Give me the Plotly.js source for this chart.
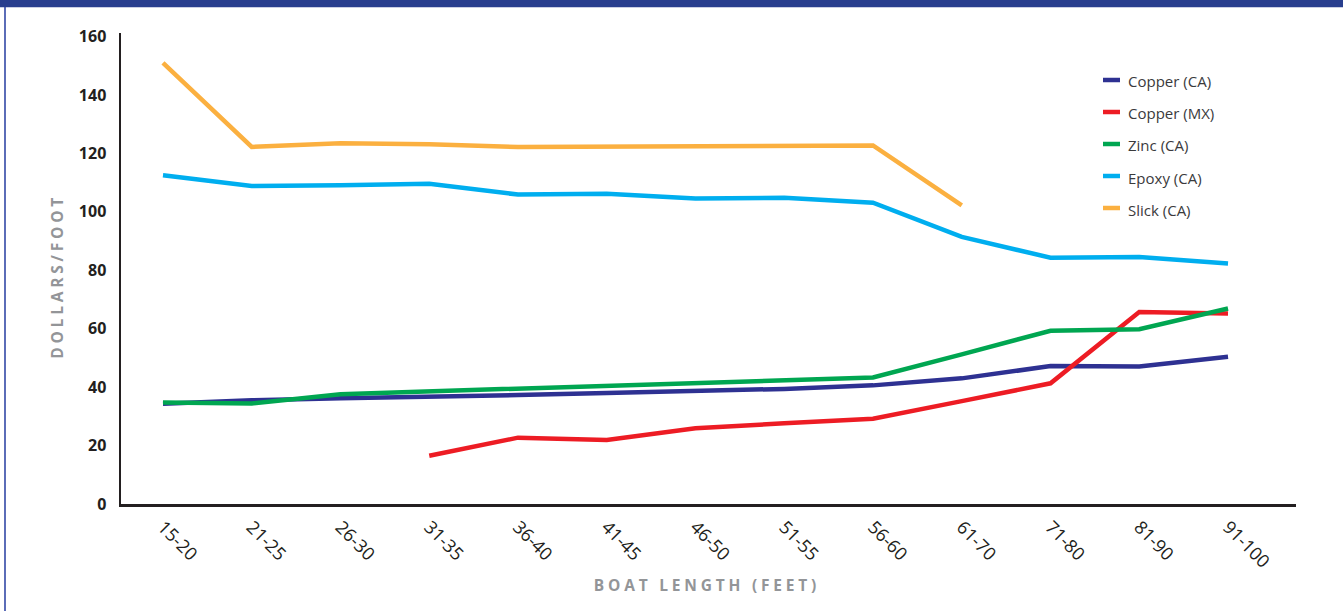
<!DOCTYPE html>
<html>
<head>
<meta charset="utf-8">
<script src="https://cdn.plot.ly/plotly-3.0.1.min.js"></script>
<style>
  html, body { margin: 0; padding: 0; background: #ffffff; }
  #chart { width: 1343px; height: 611px; }
</style>
</head>
<body>
<div id="chart"></div>
<script>
// ---- data ----
const categories = ['15-20','21-25','26-30','31-35','36-40','41-45','46-50','51-55','56-60','61-70','71-80','81-90','91-100'];
const copperCA = [34.3, 35.5, 36.2, 36.6, 37.3, 38.0, 38.6, 39.4, 40.6, 43.0, 47.2, 47.1, 50.4];
const copperMX = [null, null, null, 16.5, 22.7, 21.9, 25.9, 27.6, 29.2, 35.2, 41.3, 65.7, 65.2];
const zincCA   = [34.7, 34.4, 37.6, 38.6, 39.6, 40.5, 41.4, 42.3, 43.3, 51.2, 59.3, 59.8, 66.9];
const epoxyCA  = [112.5, 108.8, 109.1, 109.6, 105.9, 106.2, 104.6, 104.8, 103.1, 91.4, 84.3, 84.5, 82.3];
const slickCA  = [151.0, 122.2, 123.5, 123.1, 122.2, 122.3, 122.3, 122.4, 122.7, 102.2, null, null, null];
const seriesNames = ['Copper (CA)', 'Copper (MX)', 'Zinc (CA)', 'Epoxy (CA)', 'Slick (CA)'];
const yTicks = [0, 20, 40, 60, 80, 100, 120, 140, 160];
const xTitle = 'BOAT LENGTH (FEET)';
const yTitle = 'DOLLARS/FOOT';

// ---- styling ----
const colors = ['#2e3192', '#ed1c24', '#00a651', '#00aeef', '#fbb040'];
const values = [copperCA, copperMX, zincCA, epoxyCA, slickCA];

const traces = values.map((v, i) => ({
  type: 'scatter',
  mode: 'lines',
  x: categories,
  y: v,
  name: seriesNames[i],
  line: { color: colors[i], width: 4.5 },
  connectgaps: false,
  showlegend: false,
  hoverinfo: 'x+y+name'
}));

// plot area in pixels: left 121, right 1296, top 33, bottom 504
const L = 121, R = 1296, T = 33, B = 504;
const px2x = p => (p - L) / (R - L);
const py2y = p => (B - p) / (B - T);

const shapes = [
  // top banner
  { type: 'rect', xref: 'paper', yref: 'paper', x0: px2x(-2), x1: px2x(1345), y0: py2y(7.3), y1: py2y(-2),
    fillcolor: '#283e8e', line: { width: 0 }, layer: 'above' },
  // left border line
  { type: 'line', xref: 'paper', yref: 'paper', x0: px2x(5), x1: px2x(5), y0: py2y(7), y1: py2y(613),
    line: { color: '#3348a6', width: 1.6 } }
];

const annotations = [
  { text: xTitle, xref: 'paper', yref: 'paper', x: px2x(707), y: py2y(585), xanchor: 'center', yanchor: 'middle',
    showarrow: false, font: { family: 'Open Sans', size: 15.5, weight: 'bold', color: '#939598' } },
  { text: yTitle, xref: 'paper', yref: 'paper', x: px2x(57), y: py2y(277), xanchor: 'center', yanchor: 'middle',
    textangle: -90, showarrow: false, font: { family: 'Open Sans', size: 15.5, weight: 'bold', color: '#939598' } }
];

// legend drawn manually
const legendRows = [80, 112, 144, 176, 208];
seriesNames.forEach((n, i) => {
  shapes.push({ type: 'line', xref: 'paper', yref: 'paper', x0: px2x(1103), x1: px2x(1120),
    y0: py2y(legendRows[i]), y1: py2y(legendRows[i]), line: { color: colors[i], width: 4.5 } });
  annotations.push({ text: n, xref: 'paper', yref: 'paper', x: px2x(1126), y: py2y(legendRows[i] + 1.5),
    xanchor: 'left', yanchor: 'middle', showarrow: false,
    font: { family: 'Open Sans', size: 15, color: '#3a3a3c' } });
});

const layout = {
  width: 1343, height: 611,
  margin: { l: L, r: 1343 - R, t: T, b: 611 - B, pad: 0 },
  paper_bgcolor: '#ffffff', plot_bgcolor: '#ffffff',
  showlegend: false,
  xaxis: {
    type: 'category',
    range: [-0.473, 12.766],
    showgrid: false, zeroline: false,
    showline: true, linecolor: '#231f20', linewidth: 2.5,
    ticks: '', tickangle: 45,
    ticklabelstandoff: 3,
    tickfont: { family: 'Open Sans', size: 18, color: '#231f20' }
  },
  yaxis: {
    range: [0, 161.2],
    tickvals: yTicks,
    ticktext: yTicks.map(String),
    showgrid: false, zeroline: false,
    showline: true, linecolor: '#231f20', linewidth: 2.5,
    ticks: '',
    ticklabelstandoff: 9,
    tickfont: { family: 'Open Sans', size: 16, weight: 'bold', color: '#231f20' }
  },
  shapes: shapes,
  annotations: annotations
};

Plotly.newPlot('chart', traces, layout, { displayModeBar: false, staticPlot: true }).then(() => {
  document.querySelectorAll('.annotation-text').forEach(el => {
    const t = el.textContent;
    if (t === xTitle || t === yTitle) el.style.letterSpacing = '3.8px';
  });
});
</script>
</body>
</html>
